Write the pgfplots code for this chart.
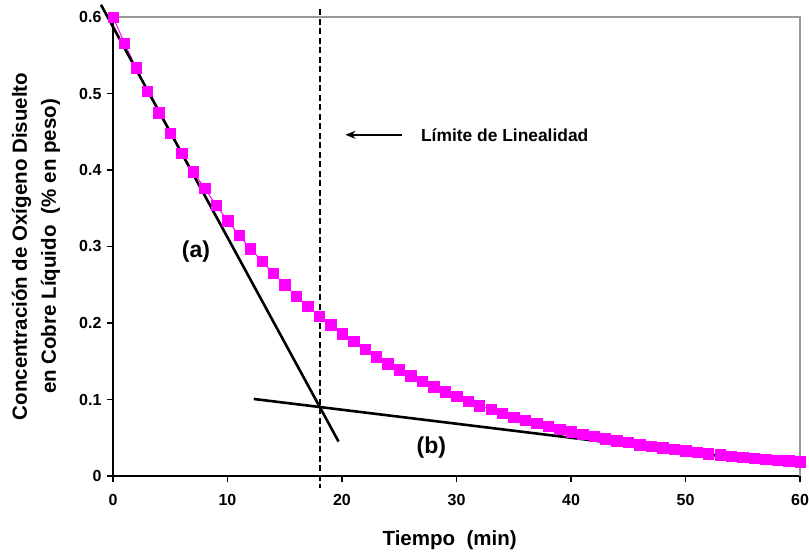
\documentclass[border=0pt]{standalone}
\usepackage{fontspec}
\setmainfont{Liberation Sans}
\usepackage{pgfplots}
\pgfplotsset{compat=1.18}
\usetikzlibrary{arrows.meta}
\definecolor{mag}{RGB}{255,0,255}

% oxygen concentration, read every 1 min
\pgfplotstableread{
t c
0 0.600
1 0.566
2 0.534
3 0.503
4 0.475
5 0.448
6 0.422
7 0.398
8 0.376
9 0.354
10 0.334
11 0.315
12 0.297
13 0.281
14 0.265
15 0.250
16 0.235
17 0.222
18 0.209
19 0.198
20 0.186
21 0.176
22 0.166
23 0.156
24 0.147
25 0.139
26 0.131
27 0.124
28 0.117
29 0.110
30 0.104
31 0.098
32 0.092
33 0.087
34 0.082
35 0.077
36 0.073
37 0.069
38 0.065
39 0.061
40 0.058
41 0.055
42 0.052
43 0.049
44 0.046
45 0.044
46 0.041
47 0.039
48 0.037
49 0.035
50 0.033
51 0.031
52 0.029
53 0.028
54 0.026
55 0.025
56 0.023
57 0.022
58 0.021
59 0.020
60 0.019
}\conc

\begin{document}
\begin{tikzpicture}
\path[use as bounding box] (-113bp,-76bp) rectangle (696bp,476bp);
\begin{axis}[
  at={(0,0)}, anchor=south west,
  width=687bp, height=459bp, scale only axis,
  xmin=0, xmax=60, ymin=0, ymax=0.6,
  xtick={0,10,20,30,40,50,60},
  ytick={0,0.1,0.2,0.3,0.4,0.5,0.6},
  axis x line*=bottom, axis y line*=left,
  axis line style={line width=2bp, -},
  tick align=outside, major tick length=6bp,
  tick style={black, line width=1.6bp},
  ticklabel style={font=\fontsize{16bp}{19bp}\selectfont\bfseries},
  /pgf/number format/assume math mode=true,
  xticklabel style={yshift=-9bp},
  yticklabel style={xshift=-2bp},
  xlabel={Tiempo\ \ (min)},
  ylabel={Concentración de Oxígeno Disuelto\\en Cobre Líquido\ \ (\% en peso)},
  label style={font=\fontsize{20.5bp}{29bp}\selectfont\bfseries},
  xlabel style={at={(axis description cs:0.49,-0.139)}, anchor=center},
  ylabel style={at={(axis description cs:-0.112,0.5)}, anchor=center, align=center},
  clip=false,
]
\draw[gray!80, line width=1.5bp] (rel axis cs:0,1) -- (rel axis cs:1,1) -- (rel axis cs:1,0);

\addplot[mag, line width=1bp, mark=square*, mark size=5.2bp,
  mark options={fill=mag, draw=mag, line width=0.3bp}] table[x=t, y=c] {\conc};

% tangent (a) and (b)
\addplot[black, line width=2.6bp, no marks] coordinates {(-1.05,0.616) (19.7,0.045)};
\addplot[black, line width=2.6bp, no marks] coordinates {(12.3,0.1007) (57.5,0.018)};

% limit of linearity
\addplot[black, line width=2.4bp, dash pattern=on 6bp off 3.5bp, no marks] coordinates {(18.1,0.61) (18.1,-0.016)};
\addplot[black, line width=2.2bp, -{Stealth[length=10bp,width=8bp]}, no marks] coordinates {(25.2,0.446) (20.3,0.446)};

\node[anchor=west, font=\fontsize{17.4bp}{21bp}\selectfont\bfseries] at (axis cs:26.6,0.446) {Límite de Linealidad};
\node[font=\fontsize{23bp}{26bp}\selectfont\bfseries] at (axis cs:7.25,0.293) {(a)};
\node[font=\fontsize{23bp}{26bp}\selectfont\bfseries] at (axis cs:27.8,0.037) {(b)};
\end{axis}
\end{tikzpicture}
\end{document}
